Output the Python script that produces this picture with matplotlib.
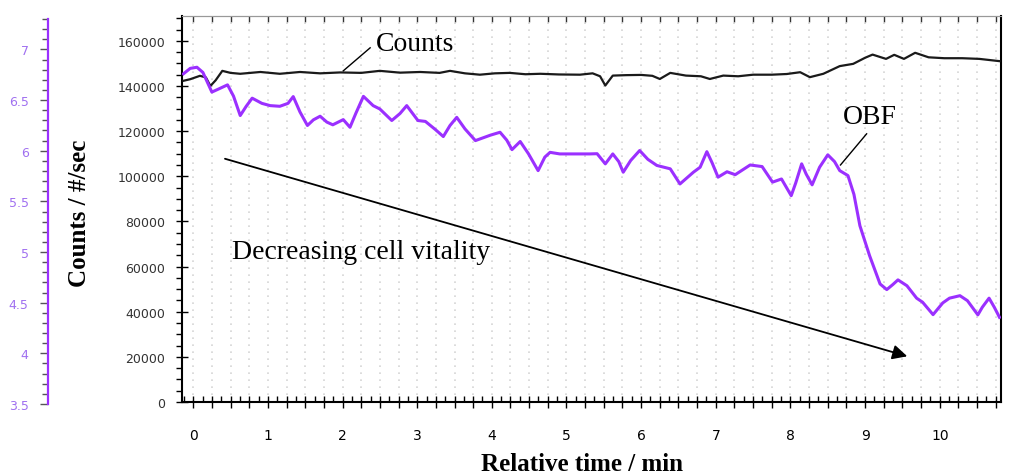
import matplotlib
matplotlib.use('Agg')
import matplotlib.pyplot as plt
from matplotlib.ticker import MultipleLocator, FuncFormatter
import numpy as np

# time in min, counts / #/sec
obf_t = [-0.13, -0.04, 0.05, 0.13, 0.25, 0.33, 0.46, 0.54, 0.63, 0.71, 0.79, 0.92,
         1.03, 1.16, 1.27, 1.34, 1.43, 1.53, 1.61, 1.70, 1.79, 1.87, 2.01, 2.10,
         2.18, 2.28, 2.41, 2.50, 2.66, 2.77, 2.86, 3.01, 3.11, 3.24, 3.35, 3.44,
         3.53, 3.64, 3.78, 3.98, 4.11, 4.20, 4.27, 4.38, 4.49, 4.62, 4.71, 4.78,
         4.91, 5.11, 5.31, 5.41, 5.52, 5.62, 5.70, 5.76, 5.86, 5.98, 6.09, 6.21,
         6.39, 6.52, 6.70, 6.79, 6.88, 6.95, 7.03, 7.15, 7.26, 7.46, 7.62, 7.76,
         7.88, 8.01, 8.07, 8.15, 8.21, 8.29, 8.39, 8.50, 8.59, 8.66, 8.77, 8.85,
         8.93, 9.06, 9.20, 9.29, 9.37, 9.44, 9.56, 9.69, 9.77, 9.91, 10.04, 10.13,
         10.27, 10.37, 10.51, 10.57, 10.66, 10.73, 10.80]
obf_v = [145400, 147800, 148300, 146000, 137300, 138500, 140500, 135500, 126900, 131000, 134600, 132300,
         131300, 131000, 132300, 135300, 128500, 122500, 125000, 126600, 124000, 122800, 125100, 121700,
         128000, 135400, 131300, 129800, 124700, 127800, 131300, 124700, 124300, 120800, 117600, 122500,
         126100, 121000, 115800, 118200, 119500, 116000, 111800, 115400, 110000, 102500, 108500, 110600,
         109900, 109900, 109900, 110000, 105500, 109900, 106500, 101800, 107000, 111400, 107500, 104800,
         103300, 96600, 101800, 104000, 110900, 106000, 99600, 102000, 100700, 105000, 104300, 97400,
         98800, 91400, 97000, 105500, 101000, 96200, 104000, 109500, 106500, 102500, 100300, 92000,
         78100, 64800, 52300, 49800, 52000, 54100, 51500, 46000, 44200, 38700, 43900, 46000,
         47100, 44900, 38600, 42000, 46000, 42000, 37500]

counts_t = [-0.13, -0.04, 0.09, 0.17, 0.23, 0.30, 0.39, 0.50, 0.63, 0.90, 1.16, 1.43,
            1.70, 1.97, 2.25, 2.50, 2.77, 3.04, 3.30, 3.44, 3.64, 3.84, 4.04, 4.24,
            4.45, 4.65, 4.90, 5.18, 5.35, 5.45, 5.52, 5.62, 5.80, 6.00, 6.15, 6.25,
            6.39, 6.60, 6.80, 6.92, 7.10, 7.30, 7.50, 7.75, 7.95, 8.13, 8.26, 8.44,
            8.66, 8.84, 9.00, 9.10, 9.28, 9.39, 9.52, 9.67, 9.85, 10.06, 10.30, 10.53, 10.80]
counts_v = [142300, 143000, 144500, 143800, 140000, 142500, 146700, 145800, 145400, 146200, 145400, 146200,
            145600, 146000, 145800, 146700, 145900, 146200, 145800, 146700, 145600, 145000, 145600, 145800,
            145200, 145400, 145100, 145000, 145600, 144300, 140200, 144600, 144800, 144900, 144500, 143100,
            145800, 144600, 144300, 143100, 144600, 144300, 145000, 145000, 145300, 146100, 143900, 145400,
            148800, 149800, 152500, 153900, 152000, 153800, 152000, 154700, 152700, 152300, 152300, 152000, 151000]

x_labels = ['0', '1', '2', '3', '4', '5', '6', '7', '8', '9', '10']
ph_ticks = [3.5, 4, 4.5, 5, 5.5, 6, 6.5, 7]

purple = '#9b30ff'
serif = ['Liberation Serif', 'DejaVu Serif']

fig = plt.figure(figsize=(10.09, 4.77), dpi=100)
ax = fig.add_axes([182/1009, 74/477, 819/1009, 386/477])

ax.plot(counts_t, counts_v, color='#1a1a1a', lw=1.6, solid_joinstyle='round', zorder=3)
ax.plot(obf_t, obf_v, color=purple, lw=2.2, solid_joinstyle='round', zorder=3)

ax.set_xlim(-0.15, 10.82)
ax.set_ylim(0, 171000)

ax.xaxis.set_major_locator(MultipleLocator(0.25))
ax.xaxis.set_minor_locator(MultipleLocator(0.125))
ax.xaxis.set_major_formatter(FuncFormatter(
    lambda v, p: x_labels[int(round(v))] if abs(v - round(v)) < 1e-6 and 0 <= round(v) <= 10 else ''))
ax.yaxis.set_major_locator(MultipleLocator(20000))
ax.yaxis.set_minor_locator(MultipleLocator(5000))
ax.tick_params(axis='x', which='major', direction='inout', length=9, width=1, pad=14, labelsize=10)
ax.tick_params(axis='x', which='minor', direction='in', length=4, width=1)
ax.tick_params(axis='y', which='major', direction='inout', length=8, width=1, pad=8,
               labelsize=9, labelcolor='#333333')
ax.tick_params(axis='y', which='minor', direction='out', length=4, width=1)

for s in ['left', 'bottom', 'right']:
    ax.spines[s].set_linewidth(1.5)
    ax.spines[s].set_color('black')
ax.spines['top'].set_color('#999999')

ax.grid(True, which='major', axis='x', color='#d5d5d5', lw=1.2, linestyle=(0, (1, 3.2)))
ax.set_axisbelow(True)

top = ax.secondary_xaxis('top')
top.xaxis.set_major_locator(MultipleLocator(0.25))
top.tick_params(direction='in', length=4, width=1, labeltop=False, color='#333333')
top.spines['top'].set_color('#999999')

fig.text(582/1009, 1 - 465/477, 'Relative time / min', family=serif, fontweight='bold',
         fontsize=18, ha='center', va='center')
fig.text(80/1009, 1 - 213/477, 'Counts / #/sec', family=serif, fontweight='bold', fontsize=18,
         rotation=90, ha='center', va='center')

ax.text(2.45, 158700, 'Counts', family=serif, fontsize=20, ha='left', va='center')
ax.plot([2.37, 2.01], [156900, 146700], color='black', lw=1)
ax.text(8.70, 126300, 'OBF', family=serif, fontsize=20, ha='left', va='center')
ax.plot([9.02, 8.67], [118800, 105000], color='black', lw=1)
ax.text(0.52, 66500, 'Decreasing cell vitality', family=serif, fontsize=20, ha='left', va='center')
ax.annotate('', xy=(9.6, 19900), xytext=(0.39, 108100),
            arrowprops=dict(arrowstyle='-|>', mutation_scale=22, color='black', lw=1.3))

# purple pH style scale on the far left
pax = fig.add_axes([48/1009, 72/477, 0.0001, 385/477])
pax.set_ylim(3.5, 7.3)
pax.set_xticks([])
for s in ['top', 'bottom', 'right']:
    pax.spines[s].set_visible(False)
pax.spines['left'].set_color(purple)
pax.spines['left'].set_linewidth(1.6)
pax.set_yticks(ph_ticks)
pax.set_yticklabels([f'{v:g}' for v in ph_ticks])
pax.yaxis.set_minor_locator(MultipleLocator(0.1))
pax.tick_params(axis='y', which='major', length=6, width=1, color='#555555', labelsize=9,
                labelcolor='#a070f0', pad=8)
pax.tick_params(axis='y', which='minor', length=4, width=1, color='#555555')

fig.savefig('out.png', dpi=100)
